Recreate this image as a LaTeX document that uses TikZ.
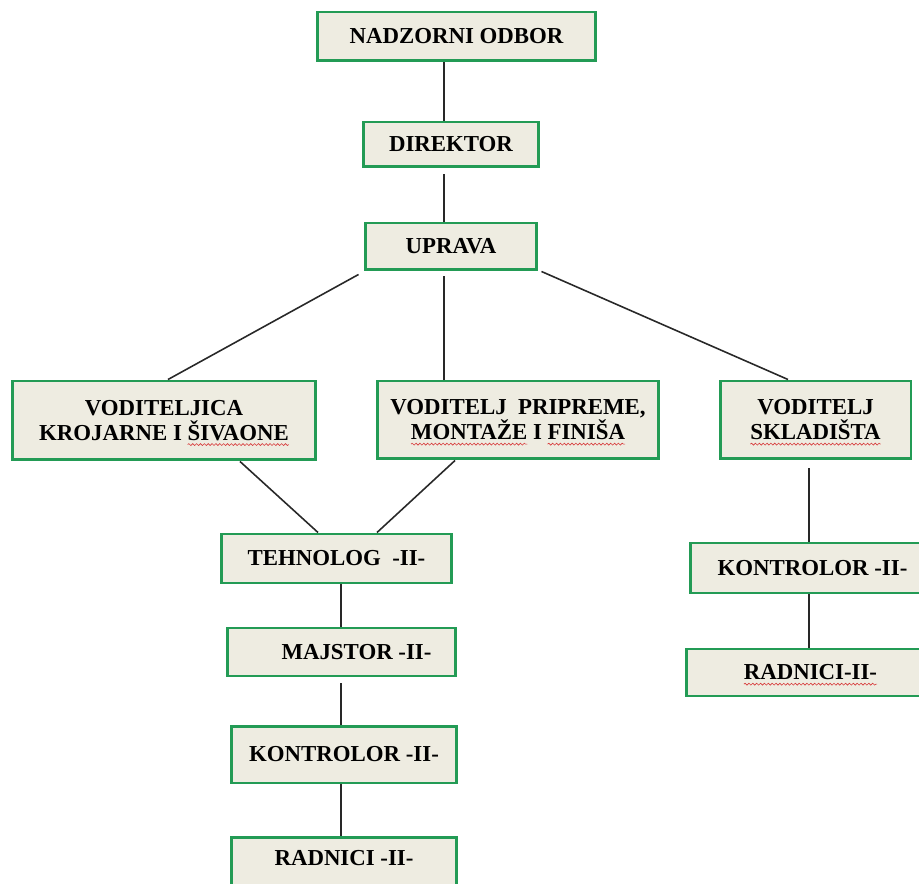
\documentclass[tikz,border=0pt]{standalone}
\usepackage{fontspec}
\setmainfont{Liberation Serif}
\usetikzlibrary{decorations.pathmorphing}

% red wavy mark under a word
\newcommand\spellwave[1]{\tikz[baseline=(sw.base),x=1cm,y=1cm]{%
    \node[inner sep=0pt,outer sep=0pt,draw=none,fill=none,minimum width=0pt,minimum height=0pt,
      text height=,text depth=,anchor=center] (sw) {#1};%
    \draw[overlay,spellred,line width=0.35pt,decorate,decoration={snake,amplitude=0.55pt,segment length=2.2pt}]
      ([yshift=-2.4pt]sw.base west) -- ([yshift=-2.4pt]sw.base east);}}

\begin{document}
\begin{tikzpicture}[x=0.02cm,y=-0.02cm,
    unit/.style={draw=boxgreen,line width=1.7pt,fill=boxfill,align=center,inner sep=0pt,
      font=\fontsize{13}{14.2}\selectfont\bfseries},
    link/.style={draw=linegray,line width=0.9pt}]
    % Define colors
    \definecolor{boxgreen}{RGB}{35,155,85}
    \definecolor{boxfill}{RGB}{238,236,225}
    \definecolor{linegray}{RGB}{40,40,40}
    \definecolor{spellred}{RGB}{215,60,60}

    % Fix the frame
    \clip (0,0) rectangle (919,884);

    % Draw the top of the chart
    \node[unit,minimum width=5.58cm,minimum height=0.98cm] (nadzor) at (456.5,36.5) {NADZORNI ODBOR};
    \node[unit,minimum width=3.52cm,minimum height=0.90cm] (direktor) at (451,144.5) {DIREKTOR};
    \node[unit,minimum width=3.44cm,minimum height=0.94cm] (uprava) at (451,246.5) {UPRAVA};
    \coordinate (trunk) at (444,0);

    % Draw the three heads
    \node[unit,minimum width=6.08cm,minimum height=1.58cm] (vkroj) at (164,420.5) {VODITELJICA\\KROJARNE I \spellwave{ŠIVAONE}};
    \node[unit,minimum width=5.64cm,minimum height=1.56cm] (vprip) at (518,420) {VODITELJ\ \ PRIPREME,\\\spellwave{MONTAŽE} I \spellwave{FINIŠA}};
    \node[unit,minimum width=3.82cm,minimum height=1.56cm] (vsklad) at (815.5,420) {VODITELJ\\\spellwave{SKLADIŠTA}};

    % Draw the left column
    \node[unit,minimum width=4.62cm,minimum height=0.98cm] (tehnolog) at (336.5,558.5) {TEHNOLOG\ \ -II-};
    \node[unit,minimum width=4.58cm,minimum height=0.96cm] (majstor) at (341.5,652) {\hspace{0.6cm}MAJSTOR -II-};
    \node[unit,minimum width=4.52cm,minimum height=1.14cm] (kontrolorL) at (344,754.5) {KONTROLOR -II-};
    \node[unit,minimum width=4.52cm,anchor=base,text height=0.56cm,text depth=0.8cm] (radniciL) at (344,865) {RADNICI -II-};
    \coordinate (colL) at (341,0);

    % Draw the right column
    \node[unit,minimum width=4.90cm,minimum height=1.00cm] (kontrolorR) at (812.5,568) {KONTROLOR -II-};
    \node[unit,minimum width=4.98cm,minimum height=0.94cm] (radniciR) at (810.5,672.5) {\spellwave{RADNICI-II-}};
    \coordinate (colR) at (809,0);

    % Draw the links
    \draw[link] (nadzor.south -| trunk) -- (direktor.north -| trunk);
    \draw[link,shorten <=0.12cm] (direktor.south -| trunk) -- (uprava.north -| trunk);
    \draw[link] ([xshift=-0.1cm,yshift=-0.06cm]uprava.south west) -- ([xshift=0.08cm]vkroj.north);
    \draw[link,shorten <=0.1cm] (uprava.south -| trunk) -- (vprip.north -| trunk);
    \draw[link] ([xshift=0.06cm]uprava.south east) -- ([xshift=-0.55cm]vsklad.north);
    \draw[link] ([xshift=1.52cm]vkroj.south) -- ([xshift=-0.37cm]tehnolog.north);
    \draw[link] ([xshift=-1.26cm]vprip.south) -- ([xshift=0.81cm]tehnolog.north);
    \draw[link] (tehnolog.south -| colL) -- (majstor.north -| colL);
    \draw[link,shorten <=0.12cm] (majstor.south -| colL) -- (kontrolorL.north -| colL);
    \draw[link] (kontrolorL.south -| colL) -- (radniciL.north -| colL);
    \draw[link,shorten <=0.16cm] (vsklad.south -| colR) -- (kontrolorR.north -| colR);
    \draw[link] (kontrolorR.south -| colR) -- (radniciR.north -| colR);
\end{tikzpicture}
\end{document}
